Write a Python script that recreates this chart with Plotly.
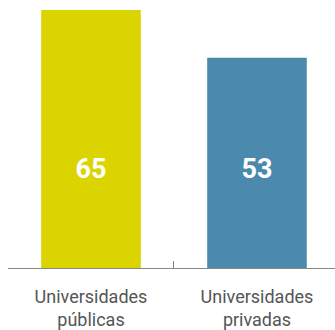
import plotly.graph_objects as go

categories = ["Universidades<br>públicas", "Universidades<br>privadas"]
values = [65, 53]
colors = ["#DCD400", "#4B8AAD"]
label_height = 24.5  # vertical position of the value labels, in data units

fig = go.Figure()
fig.add_trace(go.Bar(
    x=categories,
    y=values,
    marker=dict(color=colors, line=dict(width=0)),
    width=0.6,
    hoverinfo="skip",
))
fig.add_trace(go.Scatter(
    x=categories,
    y=[label_height] * len(values),
    mode="text",
    text=[str(v) for v in values],
    textfont=dict(family="Roboto", size=27, color="white", weight="bold"),
    hoverinfo="skip",
))

fig.update_layout(
    width=335,
    height=330,
    margin=dict(l=8, r=0, t=10, b=60),
    paper_bgcolor="white",
    plot_bgcolor="white",
    showlegend=False,
    font=dict(family="Roboto", size=18, color="#555555"),
    xaxis=dict(
        type="category",
        range=[-0.5, 1.47],
        showline=True,
        linecolor="#888888",
        linewidth=1,
        ticks="inside",
        ticklen=7,
        tickcolor="#888888",
        tickson="boundaries",
        ticklabelstandoff=12,
        showgrid=False,
        zeroline=False,
        fixedrange=True,
    ),
    yaxis=dict(
        range=[0, 65],
        visible=False,
        showgrid=False,
        zeroline=False,
        fixedrange=True,
    ),
)

fig.write_html("out.html")
